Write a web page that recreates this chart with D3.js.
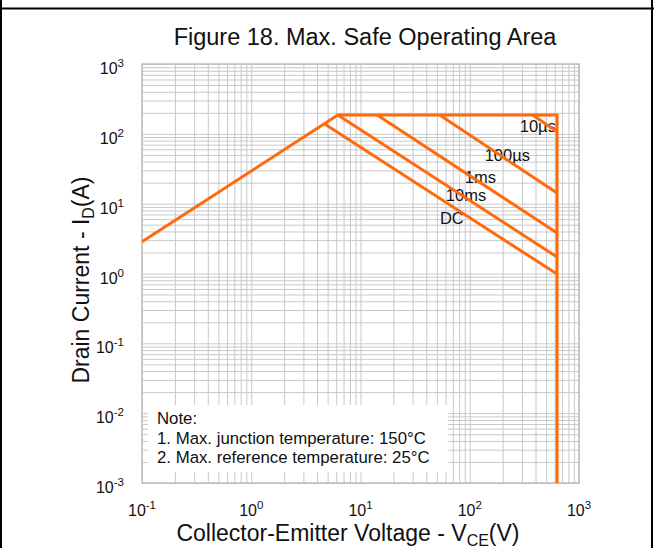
<!DOCTYPE html>
<meta charset="utf-8">
<script src="https://cdn.jsdelivr.net/npm/d3@7"></script>
<style>
body {margin: 0; background: #fff;}
text {font-family: "Liberation Sans", Arial, sans-serif; fill: #111;}
.grid line {stroke: #c8c8c8; stroke-width: 1;}
.grid .domain {display: none;}
.soa {fill: none; stroke: #ff6a0d; stroke-width: 3;}
</style>
<div id="vis"></div>
<script>

// Data
const boundaryV = [0.1, 6.2, 630, 630];
const boundaryI = [2.85, 186, 186, 0.001];

const pulseLabels = ["10µs", "100µs", "1ms", "10ms", "DC"];
const pulseStartV = [378, 53, 14.2, 6.2, 4.7];
const pulseStartI = [186, 186, 186, 186, 138];
const pulseEndV = [630, 630, 630, 630, 630];
const pulseEndI = [106, 14.2, 3.8, 1.72, 0.98];
// where each label sits (V, I of left baseline)
const labelV = [287, 137, 90, 60.4, 53.3];
const labelI = [106, 41.2, 19.7, 11.0, 5.1];

const xExp = [-1, 0, 1, 2, 3];
const yExp = [-3, -2, -1, 0, 1, 2, 3];

const noteLines = ["Note:", "1. Max. junction temperature: 150°C", "2. Max. reference temperature: 25°C"];

// Size and margins
const w = 654, h = 548;
const margin = {top: 64, right: 75, bottom: 65, left: 142};
const width = w - margin.left - margin.right,
    height = h - margin.top - margin.bottom;

let svg = d3.select("#vis").append("svg")
    .attr("width", w)
    .attr("height", h);

// outer frame
svg.append("line").attr("x1", 0).attr("x2", w).attr("y1", 8.5).attr("y2", 8.5)
    .attr("stroke", "#000").attr("stroke-width", 2);
svg.append("line").attr("x1", 1).attr("x2", 1).attr("y1", 0).attr("y2", h)
    .attr("stroke", "#000").attr("stroke-width", 2);
svg.append("line").attr("x1", 652).attr("x2", 652).attr("y1", 0).attr("y2", h)
    .attr("stroke", "#000").attr("stroke-width", 2);

let g = svg.append("g")
    .attr("transform", "translate(" + margin.left + "," + margin.top + ")");

let x = d3.scaleLog().domain([0.1, 1000]).range([0, width]);
let y = d3.scaleLog().domain([0.001, 1000]).range([height, 0]);

// grid lines from axes
g.append("g").attr("class", "grid")
    .attr("transform", "translate(0," + height + ")")
    .call(d3.axisBottom(x).tickSize(-height).tickFormat(""));
g.append("g").attr("class", "grid")
    .call(d3.axisLeft(y).tickSize(-width).tickFormat(""));

g.append("rect")
    .attr("width", width).attr("height", height)
    .attr("fill", "none").attr("stroke", "#bdbdbd").attr("stroke-width", 1.5);

// note box covering the grid
g.append("rect")
    .attr("x", 6).attr("y", 341)
    .attr("width", 300).attr("height", 67)
    .attr("fill", "#fff");

g.selectAll(".note")
  .data(noteLines)
  .enter().append("text")
    .attr("class", "note")
    .attr("x", 15)
    .attr("y", (d, i) => 360 + i * 19.5)
    .attr("font-size", "16.8px")
    .text(d => d);

// pulse labels (under the lines)
g.selectAll(".plabel")
  .data(pulseLabels)
  .enter().append("text")
    .attr("class", "plabel")
    .attr("x", (d, i) => x(labelV[i]))
    .attr("y", (d, i) => y(labelI[i]))
    .attr("font-size", "16.5px")
    .text(d => d);

// SOA boundary
let line = d3.line().x(d => x(d[0])).y(d => y(d[1]));
g.append("path")
    .attr("class", "soa")
    .attr("d", line(boundaryV.map((v, i) => [v, boundaryI[i]])));

g.selectAll(".pulse")
  .data(pulseLabels)
  .enter().append("path")
    .attr("class", "soa")
    .attr("d", (d, i) => line([[pulseStartV[i], pulseStartI[i]], [pulseEndV[i], pulseEndI[i]]]));

// tick labels with exponents
function power(sel, e) {
  sel.append("tspan").attr("font-size", "16px").text("10");
  sel.append("tspan").attr("font-size", "11.5px").attr("dy", -7).text(e);
}

g.selectAll(".xlab")
  .data(xExp)
  .enter().append("text")
    .attr("class", "xlab")
    .attr("x", d => x(Math.pow(10, d)))
    .attr("y", height + 33)
    .attr("text-anchor", "middle")
    .each(function(d) { power(d3.select(this), d); });

g.selectAll(".ylab")
  .data(yExp)
  .enter().append("text")
    .attr("class", "ylab")
    .attr("x", -18)
    .attr("y", d => y(Math.pow(10, d)) + 10)
    .attr("text-anchor", "end")
    .each(function(d) { power(d3.select(this), d); });

// titles
svg.append("text")
    .attr("x", 365).attr("y", 45)
    .attr("text-anchor", "middle")
    .attr("font-size", "23.5px")
    .text("Figure 18. Max. Safe Operating Area");

let xt = svg.append("text")
    .attr("x", 348).attr("y", 541)
    .attr("text-anchor", "middle")
    .attr("font-size", "23px");
xt.append("tspan").text("Collector-Emitter Voltage - V");
xt.append("tspan").attr("font-size", "16px").attr("dy", 5).text("CE");
xt.append("tspan").attr("dy", -5).text("(V)");

let yt = svg.append("text")
    .attr("transform", "translate(89,280) rotate(-90)")
    .attr("text-anchor", "middle")
    .attr("font-size", "23px");
yt.append("tspan").text("Drain Current - I");
yt.append("tspan").attr("font-size", "16px").attr("dy", 5).text("D");
yt.append("tspan").attr("dy", -5).text("(A)");

</script>
